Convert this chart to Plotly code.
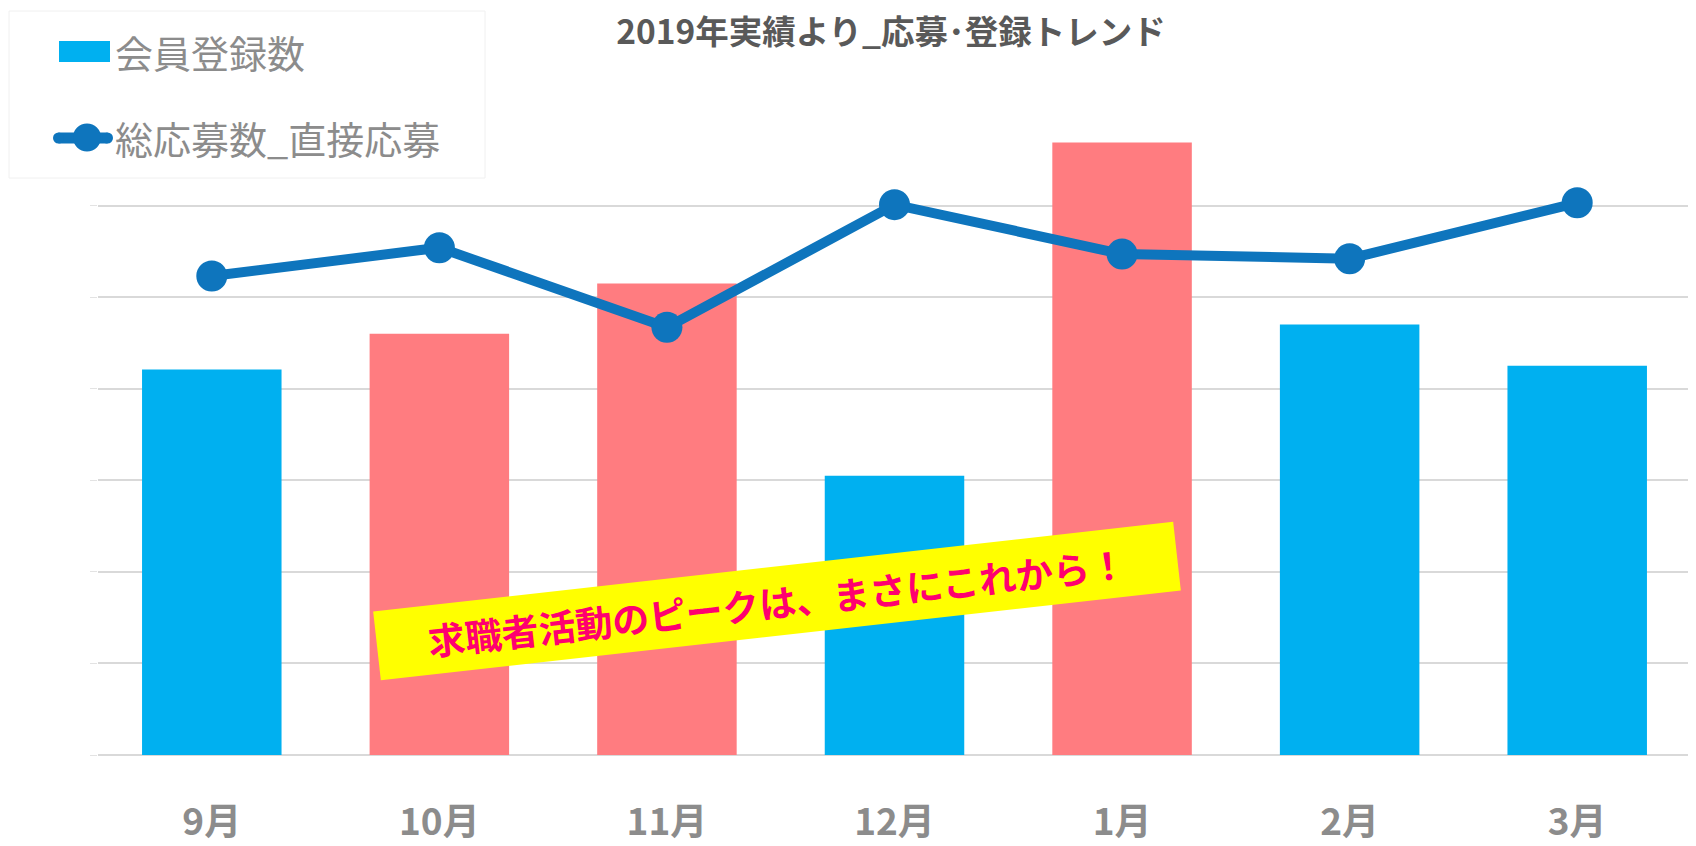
import plotly.graph_objects as go

# ---- data ----
months = ["9月", "10月", "11月", "12月", "1月", "2月", "3月"]
members = [421, 460, 515, 305, 669, 470, 425]          # 会員登録数
applications = [523, 554, 467, 601, 547, 542, 603]      # 総応募数_直接応募
highlight_months = ["10月", "11月", "1月"]

title_text = "2019年実績より_応募･登録トレンド"
bar_name = "会員登録数"
line_name = "総応募数_直接応募"
callout_text = "求職者活動のピークは、まさにこれから！"

# ---- styling ----
BLUE = "#00B0F0"
PINK = "#FF7C80"
LINE = "#0E75BD"
GRID = "#D9D9D9"
GRAY = "#8C8C8C"
FONT = "Noto Sans CJK JP"

OFF = 8  # default page body margin
W, H = 1696 - OFF, 846 - OFF
ML, MR, MT, MB = 90, 5, 106, 91
PW, PH = W - ML - MR, H - MT - MB


def px(x):
    """screen x -> paper x"""
    return (x - OFF - ML) / PW


def py(y):
    """screen y -> paper y"""
    return (H - MB - (y - OFF)) / PH


bar_colors = [PINK if m in highlight_months else BLUE for m in months]

fig = go.Figure()
fig.add_trace(go.Bar(x=months, y=members, name=bar_name,
                     marker=dict(color=bar_colors, line=dict(width=0)),
                     showlegend=False))
fig.add_trace(go.Scatter(x=months, y=applications, name=line_name,
                         mode="lines+markers",
                         line=dict(color=LINE, width=10),
                         marker=dict(color=LINE, size=31),
                         showlegend=False))


def dot(cx, cy, r, color):
    return dict(type="circle", xref="paper", yref="paper", layer="above",
                x0=px(cx - r), x1=px(cx + r), y0=py(cy + r), y1=py(cy - r),
                fillcolor=color, line=dict(width=0))


shapes = [
    # legend box
    dict(type="rect", xref="paper", yref="paper", layer="above",
         x0=px(9), x1=px(485), y0=py(178), y1=py(11),
         fillcolor="white", line=dict(color="#F0F0F0", width=1)),
    dict(type="rect", xref="paper", yref="paper", layer="above",
         x0=px(59), x1=px(110), y0=py(62), y1=py(41),
         fillcolor=BLUE, line=dict(width=0)),
    dict(type="line", xref="paper", yref="paper", layer="above",
         x0=px(58.5), x1=px(107.5), y0=py(138), y1=py(138),
         line=dict(color=LINE, width=11)),
    dot(58.5, 138, 5.5, LINE),
    dot(107.5, 138, 5.5, LINE),
    dot(87, 137.5, 14, LINE),
]

annotations = [
    dict(text=bar_name, xref="paper", yref="paper", x=px(113), y=py(52),
         xanchor="left", yanchor="middle", showarrow=False,
         font=dict(family=FONT, size=38, color=GRAY)),
    dict(text=line_name, xref="paper", yref="paper", x=px(113), y=py(137),
         xanchor="left", yanchor="middle", showarrow=False,
         font=dict(family=FONT, size=38, color=GRAY)),
    dict(text="<b>" + callout_text + "</b>", xref="paper", yref="paper",
         x=px(777), y=py(601), xanchor="center", yanchor="middle",
         showarrow=False, textangle=-6.4, bgcolor="#FFFF00",
         width=800, height=64, borderpad=2,
         font=dict(family=FONT, size=37, color="#FF0070")),
]

fig.update_layout(
    width=W, height=H,
    margin=dict(l=ML, r=MR, t=MT, b=MB, autoexpand=False),
    paper_bgcolor="white", plot_bgcolor="white",
    bargap=0.387,
    title=dict(text="<b>" + title_text + "</b>", x=(891 - OFF) / W,
               y=1 - 24 / H, xanchor="center", yanchor="middle",
               automargin=False,
               font=dict(family=FONT, size=33.5, color="#595959")),
    shapes=shapes,
    annotations=annotations,
    font=dict(family=FONT),
)
fig.update_xaxes(showgrid=False, showline=False, zeroline=False,
                 automargin=False, range=[-0.5, len(months) - 0.5],
                 tickfont=dict(family=FONT, size=37, color=GRAY),
                 tickprefix="<b>", ticksuffix="</b>",
                 ticklabelstandoff=42)
fig.update_yaxes(range=[0, 700], dtick=100, showgrid=True, gridcolor=GRID,
                 gridwidth=1.5, zeroline=True, zerolinecolor=GRID,
                 zerolinewidth=2, showticklabels=False, automargin=False,
                 ticks="outside", ticklen=7, tickcolor="#E3E3E3", tickwidth=1)

fig.write_html("out.html")
